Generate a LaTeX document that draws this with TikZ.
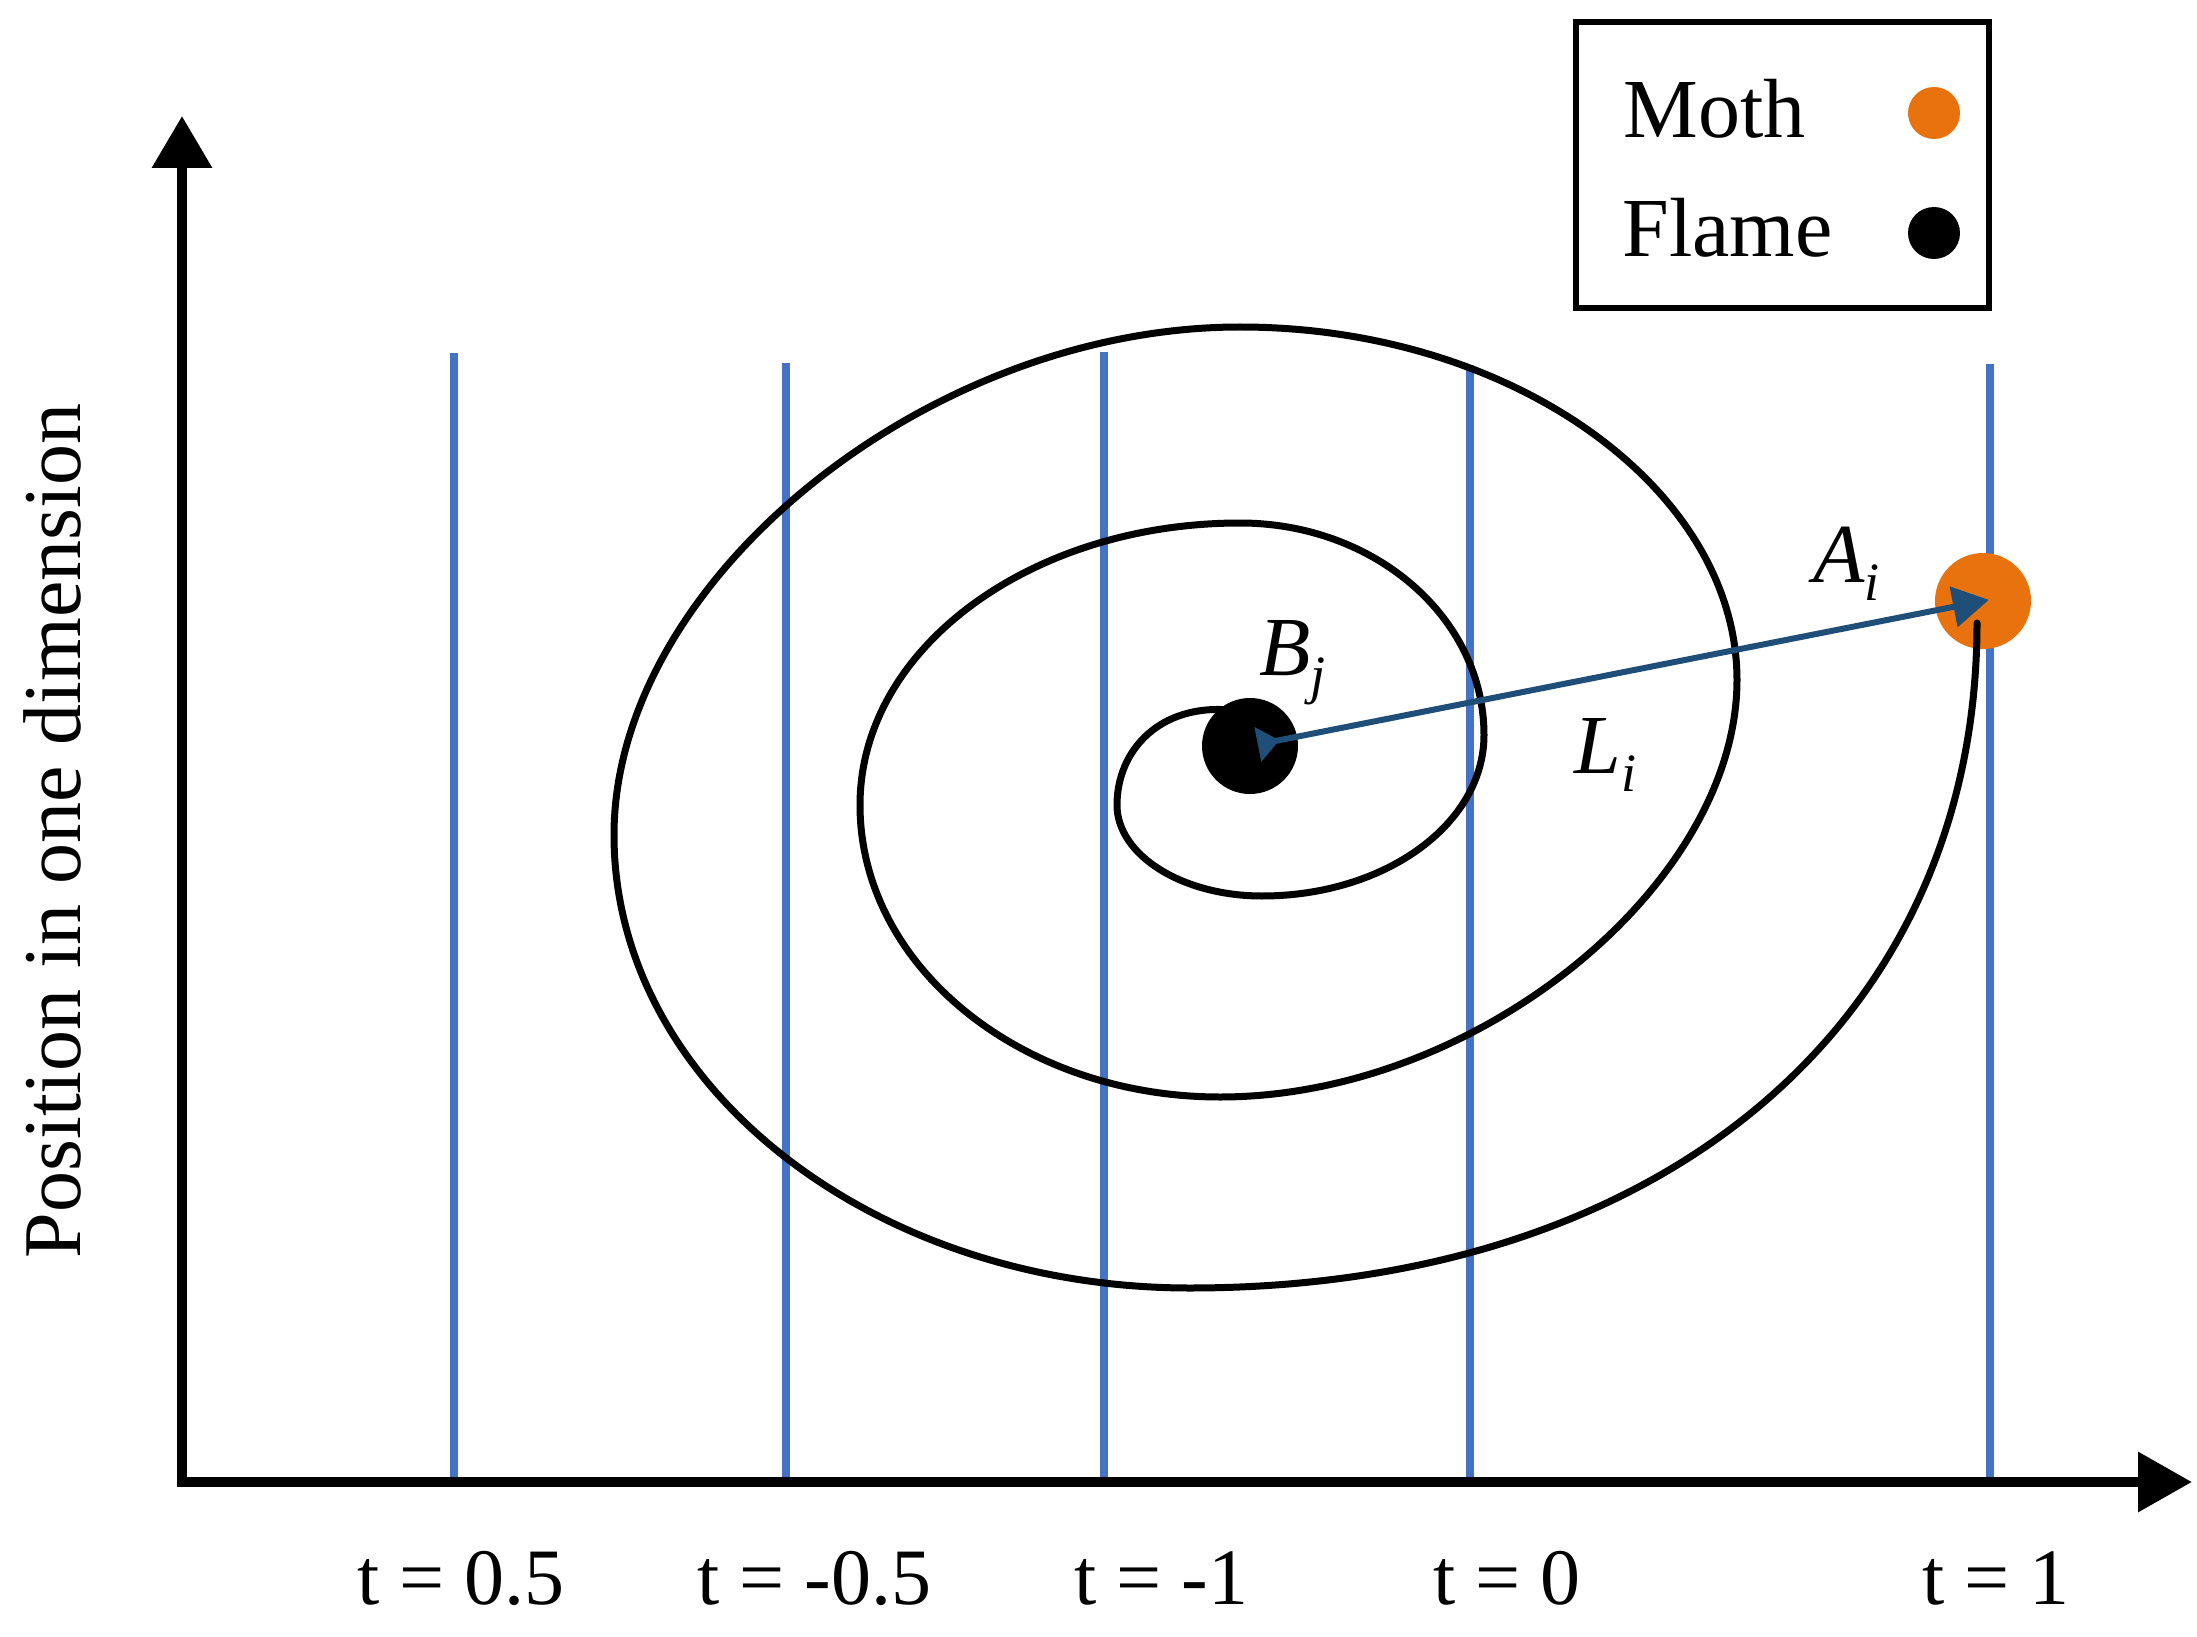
\documentclass[tikz,border=0pt]{standalone}
\usepackage{fontspec}
\setmainfont{Liberation Serif}
\usetikzlibrary{arrows.meta}
\definecolor{vblue}{RGB}{68,114,196}
\definecolor{mothc}{RGB}{232,114,14}
\definecolor{arrowc}{RGB}{31,78,121}
\tikzset{
  axisline/.style={line width=5pt, black, line join=miter},
  tline/.style={line width=3.6pt, vblue},
  spiralline/.style={line width=3.5pt, black, line cap=round},
  tlabel/.style={font=\fontsize{40}{40}\selectfont, anchor=base, inner sep=0pt},
  legtext/.style={font=\fontsize{42}{42}\selectfont, anchor=base west, inner sep=0pt},
  mathlbl/.style={font=\fontsize{42}{42}\selectfont\itshape, anchor=base west, inner sep=0pt},
}
\newcommand{\subsc}[1]{\raisebox{-9pt}{\fontsize{27}{27}\selectfont\itshape #1}}
\begin{document}
\begin{tikzpicture}[x=0.5pt,y=-0.5pt]
\useasboundingbox (0,0) rectangle (2197,1637);
% coordinates
\coordinate (origin) at (182,1482);
\coordinate (ytip) at (182,116);
\coordinate (xtip) at (2192,1482);
% vertical time lines
\foreach \nm/\xx/\yy in {a/454/353, b/786/363, c/1104/352, d/1470/365, e/1990/364}{
  \coordinate (top\nm) at (\xx,\yy);
  \coordinate (bot\nm) at (\xx,1480);
  \draw[tline] (top\nm) -- (bot\nm);
}
% moth
\node[circle, fill=mothc, minimum size=48pt, inner sep=0pt] (moth) at (1983,601) {};
% spiral
\draw[spiralline]
  (1230,710) .. controls (1160,704) and (1117,750) .. (1117,805)
  .. controls (1117,855) and (1182,896) .. (1262,896)
  .. controls (1385,896) and (1484,824) .. (1484,735)
  .. controls (1484,618) and (1375,523) .. (1240,523)
  .. controls (1030,523) and (860,649) .. (860,805)
  .. controls (860,966) and (1021,1097) .. (1220,1097)
  .. controls (1478,1097) and (1737,884) .. (1737,680)
  .. controls (1737,490) and (1514,327) .. (1240,327)
  .. controls (927,327) and (614,581) .. (614,835)
  .. controls (614,1085) and (872,1288) .. (1190,1288)
  .. controls (1662,1288) and (1977,1022) .. (1977,623);
% flame
\node[circle, fill=black, minimum size=48pt, inner sep=0pt] (flame) at (1250,746) {};
% axes
\draw[axisline, {Triangle[length=26pt,width=29pt]}-{Triangle[length=27pt,width=29pt]}]
  (ytip) -- (origin) -- (xtip);
% arrow flame -> moth
\draw[line width=3pt, arrowc, {Triangle[reversed,length=11pt,width=17pt]}-{Triangle[length=18pt,width=20pt]},
      shorten <=4pt, shorten >=-3pt] (flame.center) -- (moth.center);
% labels
\node[mathlbl] (Bj) at (1259,675) {B\subsc{j}};
\node[mathlbl] (Ai) at (1813,582) {A\subsc{i}};
\node[mathlbl] (Li) at (1574,773) {L\subsc{i}};
% time labels
\node[tlabel] (t1) at (461,1604) {t = 0.5};
\node[tlabel] (t2) at (814,1604) {t = -0.5};
\node[tlabel] (t3) at (1161,1604) {t = -1};
\node[tlabel] (t4) at (1507,1604) {t = 0};
\node[tlabel] (t5) at (1996,1604) {t = 1};
% y label
\node[font=\fontsize{41}{41}\selectfont, rotate=90, anchor=base, inner sep=0pt] (ylab) at (80,831) {Position in one dimension};
% legend
\draw[line width=2.6pt] (1576,22) rectangle (1989,308);
\node[legtext] (lmoth) at (1623,138) {Moth};
\node[legtext] (lflame) at (1622,257) {Flame};
\node[circle, fill=mothc, minimum size=26pt, inner sep=0pt] (lmothdot) at (1934,113) {};
\node[circle, fill=black, minimum size=26pt, inner sep=0pt] (lflamedot) at (1934,233) {};
\end{tikzpicture}
\end{document}
